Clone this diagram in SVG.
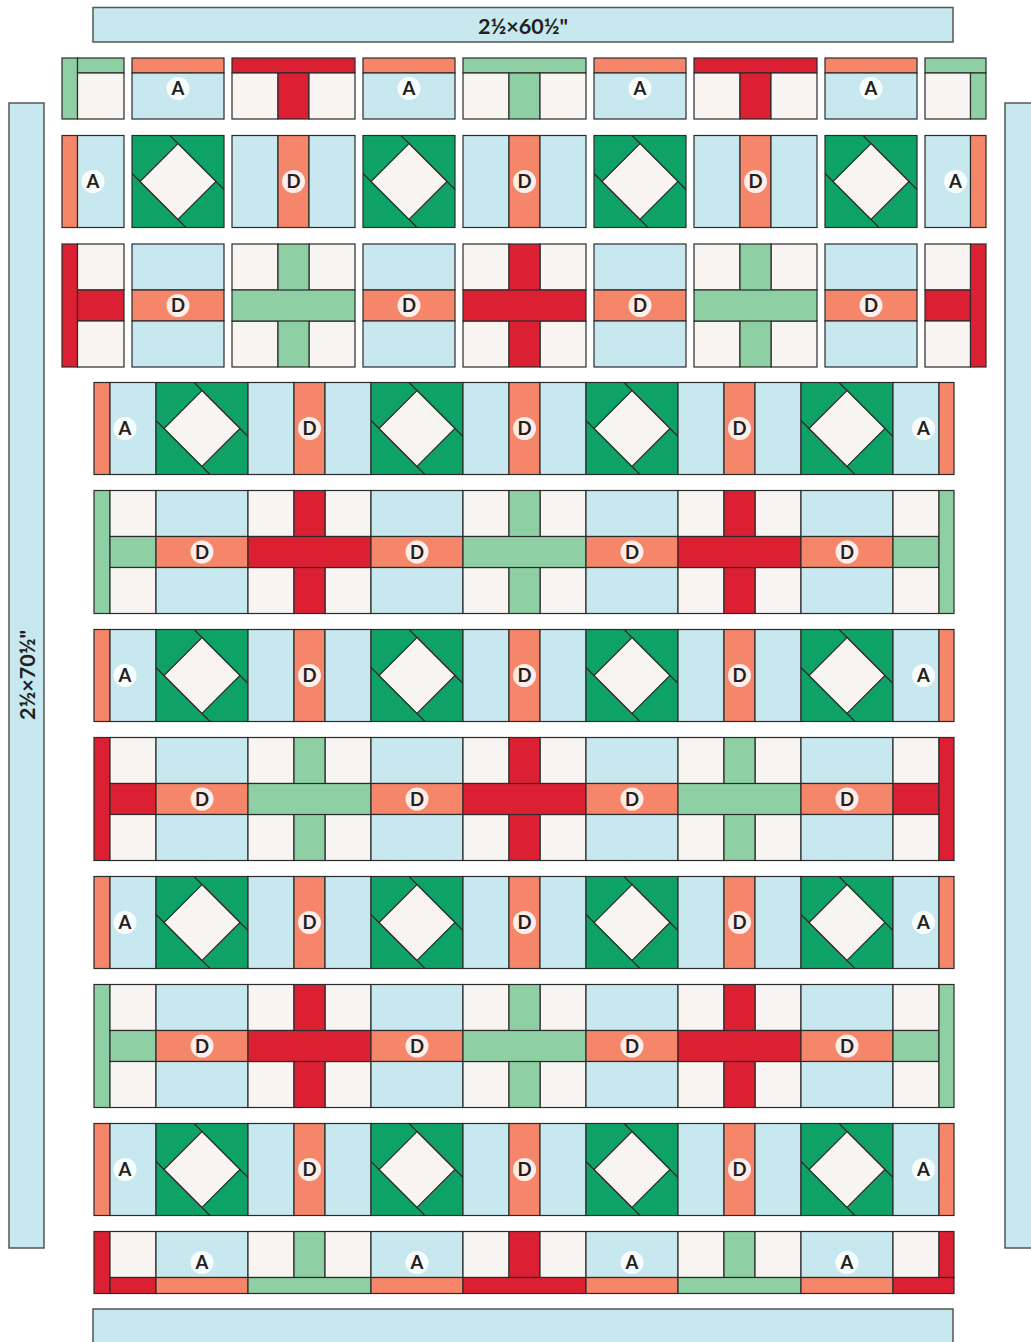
<svg xmlns="http://www.w3.org/2000/svg" xmlns:xlink="http://www.w3.org/1999/xlink" width="1031" height="1342" viewBox="0 0 1031 1342">
<style>
rect, polygon { stroke:#2b2b2b; stroke-width:1.2; }
.b { fill:#c8e8ef; }
.c { fill:#f8f4f1; }
.o { fill:#f58669; }
.r { fill:#db2033; }
.g { fill:#8ecfa3; }
.dg { fill:#0fa266; }
.ln { stroke:#2b2b2b; stroke-width:1.2; fill:none; }
.bd { fill:#c8e8ef; stroke:#555; stroke-width:1.5; }
.lc { fill:#fff; fill-opacity:0.85; }
.lb { font-family:Lato, "Liberation Sans", sans-serif; font-weight:700; font-size:18.5px; text-anchor:middle; fill:#231f20; }
.bt { font-family:Lato, "Liberation Sans", sans-serif; font-weight:700; font-size:21.5px; text-anchor:middle; fill:#231f20; }
</style>
<defs>
<g id="dia">
<rect class="dg" width="92" height="92"/>
<path class="ln" d="M38 0L92 54M0 38L54 92"/>
<polygon class="c" points="46,8 84,46 46,84 8,46"/>
</g>
<g id="dv">
<rect class="b" width="46" height="92"/><rect class="o" x="46" width="31" height="92"/><rect class="b" x="77" width="46" height="92"/>
<circle class="lc" cx="61.5" cy="46" r="11.5"/><text class="lb" x="61.5" y="52.5">D</text>
</g>
<g id="dh">
<rect class="b" width="92" height="46"/><rect class="o" y="46" width="92" height="31"/><rect class="b" y="77" width="92" height="46"/>
<circle class="lc" cx="46" cy="61.5" r="11.5"/><text class="lb" x="46" y="68">D</text>
</g>
<g id="cr">
<rect class="c" width="46" height="46"/><rect class="c" x="77" width="46" height="46"/><rect class="c" y="77" width="46" height="46"/><rect class="c" x="77" y="77" width="46" height="46"/>
<rect x="46" width="31" height="123"/><rect y="46" width="123" height="31"/>
</g>
</defs>

<g id="border-top"><rect class="bd" x="93" y="7.5" width="860" height="34.5"/><text class="bt" x="523" y="33.5">2½×60½"</text></g>
<g id="border-left"><rect class="bd" x="9" y="103" width="35" height="1145"/><text class="bt" transform="translate(35,675) rotate(-90)">2½×70½"</text></g>
<g id="border-right"><rect class="bd" x="1005" y="103" width="40" height="1145"/></g>
<g id="border-bottom"><rect class="bd" x="93" y="1309" width="860" height="50"/></g>

<!-- top section row 1 -->
<g id="t1-1"><rect class="g" x="62" y="58" width="15.5" height="61"/><rect class="g" x="77.5" y="58" width="46.5" height="15"/><rect class="c" x="77.5" y="73" width="46.5" height="46"/></g>
<g id="t1-2"><rect class="o" x="132" y="58" width="92" height="15"/><rect class="b" x="132" y="73" width="92" height="46"/><circle class="lc" cx="178" cy="88.5" r="11.5"/><text class="lb" x="178" y="95">A</text></g>
<g id="t1-3"><rect class="r" x="232" y="58" width="123" height="15"/><rect class="c" x="232" y="73" width="46" height="46"/><rect class="r" x="278" y="73" width="31" height="46"/><rect class="c" x="309" y="73" width="46" height="46"/></g>
<g id="t1-4"><rect class="o" x="363" y="58" width="92" height="15"/><rect class="b" x="363" y="73" width="92" height="46"/><circle class="lc" cx="409" cy="88.5" r="11.5"/><text class="lb" x="409" y="95">A</text></g>
<g id="t1-5"><rect class="g" x="463" y="58" width="123" height="15"/><rect class="c" x="463" y="73" width="46" height="46"/><rect class="g" x="509" y="73" width="31" height="46"/><rect class="c" x="540" y="73" width="46" height="46"/></g>
<g id="t1-6"><rect class="o" x="594" y="58" width="92" height="15"/><rect class="b" x="594" y="73" width="92" height="46"/><circle class="lc" cx="640" cy="88.5" r="11.5"/><text class="lb" x="640" y="95">A</text></g>
<g id="t1-7"><rect class="r" x="694" y="58" width="123" height="15"/><rect class="c" x="694" y="73" width="46" height="46"/><rect class="r" x="740" y="73" width="31" height="46"/><rect class="c" x="771" y="73" width="46" height="46"/></g>
<g id="t1-8"><rect class="o" x="825" y="58" width="92" height="15"/><rect class="b" x="825" y="73" width="92" height="46"/><circle class="lc" cx="871" cy="88.5" r="11.5"/><text class="lb" x="871" y="95">A</text></g>
<g id="t1-9"><rect class="g" x="925" y="58" width="61" height="15"/><rect class="c" x="925" y="73" width="45.5" height="46"/><rect class="g" x="970.5" y="73" width="15.5" height="46"/></g>

<!-- top section row 2 -->
<g id="t2-1"><rect class="o" x="62" y="135.5" width="15.5" height="92"/><rect class="b" x="77.5" y="135.5" width="46.5" height="92"/><circle class="lc" cx="93" cy="181.5" r="11.5"/><text class="lb" x="93" y="188">A</text></g>
<use id="t2-2" href="#dia" x="132" y="135.5"/>
<use id="t2-3" href="#dv" x="232" y="135.5"/>
<use id="t2-4" href="#dia" x="363" y="135.5"/>
<use id="t2-5" href="#dv" x="463" y="135.5"/>
<use id="t2-6" href="#dia" x="594" y="135.5"/>
<use id="t2-7" href="#dv" x="694" y="135.5"/>
<use id="t2-8" href="#dia" x="825" y="135.5"/>
<g id="t2-9"><rect class="b" x="925" y="135.5" width="45.5" height="92"/><rect class="o" x="970.5" y="135.5" width="15.5" height="92"/><circle class="lc" cx="955.5" cy="181.5" r="11.5"/><text class="lb" x="955.5" y="188">A</text></g>

<!-- top section row 3 -->
<g id="t3-1"><rect class="r" x="62" y="244" width="15.5" height="123"/><rect class="c" x="77.5" y="244" width="46.5" height="46"/><rect class="r" x="77.5" y="290" width="46.5" height="31"/><rect class="c" x="77.5" y="321" width="46.5" height="46"/></g>
<use id="t3-2" href="#dh" x="132" y="244"/>
<use id="t3-3" href="#cr" class="g" x="232" y="244"/>
<use id="t3-4" href="#dh" x="363" y="244"/>
<use id="t3-5" href="#cr" class="r" x="463" y="244"/>
<use id="t3-6" href="#dh" x="594" y="244"/>
<use id="t3-7" href="#cr" class="g" x="694" y="244"/>
<use id="t3-8" href="#dh" x="825" y="244"/>
<g id="t3-9"><rect class="c" x="925" y="244" width="45.5" height="46"/><rect class="r" x="925" y="290" width="45.5" height="31"/><rect class="c" x="925" y="321" width="45.5" height="46"/><rect class="r" x="970.5" y="244" width="15.5" height="123"/></g>

<!-- main row 4 -->
<g id="m4-1"><rect class="o" x="94" y="382.5" width="16" height="92"/><rect class="b" x="110" y="382.5" width="46" height="92"/><circle class="lc" cx="125" cy="428.5" r="11.5"/><text class="lb" x="125" y="435">A</text></g>
<use id="m4-2" href="#dia" x="156" y="382.5"/>
<use id="m4-3" href="#dv" x="248" y="382.5"/>
<use id="m4-4" href="#dia" x="371" y="382.5"/>
<use id="m4-5" href="#dv" x="463" y="382.5"/>
<use id="m4-6" href="#dia" x="586" y="382.5"/>
<use id="m4-7" href="#dv" x="678" y="382.5"/>
<use id="m4-8" href="#dia" x="801" y="382.5"/>
<g id="m4-9"><rect class="b" x="893" y="382.5" width="46" height="92"/><rect class="o" x="939" y="382.5" width="15" height="92"/><circle class="lc" cx="923.5" cy="428.5" r="11.5"/><text class="lb" x="923.5" y="435">A</text></g>

<!-- main row 5 -->
<g id="m5-1"><rect class="g" x="94" y="490.5" width="16" height="123"/><rect class="c" x="110" y="490.5" width="46" height="46"/><rect class="g" x="110" y="536.5" width="46" height="31"/><rect class="c" x="110" y="567.5" width="46" height="46"/></g>
<use id="m5-2" href="#dh" x="156" y="490.5"/>
<use id="m5-3" href="#cr" class="r" x="248" y="490.5"/>
<use id="m5-4" href="#dh" x="371" y="490.5"/>
<use id="m5-5" href="#cr" class="g" x="463" y="490.5"/>
<use id="m5-6" href="#dh" x="586" y="490.5"/>
<use id="m5-7" href="#cr" class="r" x="678" y="490.5"/>
<use id="m5-8" href="#dh" x="801" y="490.5"/>
<g id="m5-9"><rect class="c" x="893" y="490.5" width="46" height="46"/><rect class="g" x="893" y="536.5" width="46" height="31"/><rect class="c" x="893" y="567.5" width="46" height="46"/><rect class="g" x="939" y="490.5" width="15" height="123"/></g>

<!-- main row 6 -->
<g id="m6-1"><rect class="o" x="94" y="629.5" width="16" height="92"/><rect class="b" x="110" y="629.5" width="46" height="92"/><circle class="lc" cx="125" cy="675.5" r="11.5"/><text class="lb" x="125" y="682">A</text></g>
<use id="m6-2" href="#dia" x="156" y="629.5"/>
<use id="m6-3" href="#dv" x="248" y="629.5"/>
<use id="m6-4" href="#dia" x="371" y="629.5"/>
<use id="m6-5" href="#dv" x="463" y="629.5"/>
<use id="m6-6" href="#dia" x="586" y="629.5"/>
<use id="m6-7" href="#dv" x="678" y="629.5"/>
<use id="m6-8" href="#dia" x="801" y="629.5"/>
<g id="m6-9"><rect class="b" x="893" y="629.5" width="46" height="92"/><rect class="o" x="939" y="629.5" width="15" height="92"/><circle class="lc" cx="923.5" cy="675.5" r="11.5"/><text class="lb" x="923.5" y="682">A</text></g>

<!-- main row 7 -->
<g id="m7-1"><rect class="r" x="94" y="737.5" width="16" height="123"/><rect class="c" x="110" y="737.5" width="46" height="46"/><rect class="r" x="110" y="783.5" width="46" height="31"/><rect class="c" x="110" y="814.5" width="46" height="46"/></g>
<use id="m7-2" href="#dh" x="156" y="737.5"/>
<use id="m7-3" href="#cr" class="g" x="248" y="737.5"/>
<use id="m7-4" href="#dh" x="371" y="737.5"/>
<use id="m7-5" href="#cr" class="r" x="463" y="737.5"/>
<use id="m7-6" href="#dh" x="586" y="737.5"/>
<use id="m7-7" href="#cr" class="g" x="678" y="737.5"/>
<use id="m7-8" href="#dh" x="801" y="737.5"/>
<g id="m7-9"><rect class="c" x="893" y="737.5" width="46" height="46"/><rect class="r" x="893" y="783.5" width="46" height="31"/><rect class="c" x="893" y="814.5" width="46" height="46"/><rect class="r" x="939" y="737.5" width="15" height="123"/></g>

<!-- main row 8 -->
<g id="m8-1"><rect class="o" x="94" y="876.5" width="16" height="92"/><rect class="b" x="110" y="876.5" width="46" height="92"/><circle class="lc" cx="125" cy="922.5" r="11.5"/><text class="lb" x="125" y="929">A</text></g>
<use id="m8-2" href="#dia" x="156" y="876.5"/>
<use id="m8-3" href="#dv" x="248" y="876.5"/>
<use id="m8-4" href="#dia" x="371" y="876.5"/>
<use id="m8-5" href="#dv" x="463" y="876.5"/>
<use id="m8-6" href="#dia" x="586" y="876.5"/>
<use id="m8-7" href="#dv" x="678" y="876.5"/>
<use id="m8-8" href="#dia" x="801" y="876.5"/>
<g id="m8-9"><rect class="b" x="893" y="876.5" width="46" height="92"/><rect class="o" x="939" y="876.5" width="15" height="92"/><circle class="lc" cx="923.5" cy="922.5" r="11.5"/><text class="lb" x="923.5" y="929">A</text></g>

<!-- main row 9 -->
<g id="m9-1"><rect class="g" x="94" y="984.5" width="16" height="123"/><rect class="c" x="110" y="984.5" width="46" height="46"/><rect class="g" x="110" y="1030.5" width="46" height="31"/><rect class="c" x="110" y="1061.5" width="46" height="46"/></g>
<use id="m9-2" href="#dh" x="156" y="984.5"/>
<use id="m9-3" href="#cr" class="r" x="248" y="984.5"/>
<use id="m9-4" href="#dh" x="371" y="984.5"/>
<use id="m9-5" href="#cr" class="g" x="463" y="984.5"/>
<use id="m9-6" href="#dh" x="586" y="984.5"/>
<use id="m9-7" href="#cr" class="r" x="678" y="984.5"/>
<use id="m9-8" href="#dh" x="801" y="984.5"/>
<g id="m9-9"><rect class="c" x="893" y="984.5" width="46" height="46"/><rect class="g" x="893" y="1030.5" width="46" height="31"/><rect class="c" x="893" y="1061.5" width="46" height="46"/><rect class="g" x="939" y="984.5" width="15" height="123"/></g>

<!-- main row 10 -->
<g id="m10-1"><rect class="o" x="94" y="1123.5" width="16" height="92"/><rect class="b" x="110" y="1123.5" width="46" height="92"/><circle class="lc" cx="125" cy="1169.5" r="11.5"/><text class="lb" x="125" y="1176">A</text></g>
<use id="m10-2" href="#dia" x="156" y="1123.5"/>
<use id="m10-3" href="#dv" x="248" y="1123.5"/>
<use id="m10-4" href="#dia" x="371" y="1123.5"/>
<use id="m10-5" href="#dv" x="463" y="1123.5"/>
<use id="m10-6" href="#dia" x="586" y="1123.5"/>
<use id="m10-7" href="#dv" x="678" y="1123.5"/>
<use id="m10-8" href="#dia" x="801" y="1123.5"/>
<g id="m10-9"><rect class="b" x="893" y="1123.5" width="46" height="92"/><rect class="o" x="939" y="1123.5" width="15" height="92"/><circle class="lc" cx="923.5" cy="1169.5" r="11.5"/><text class="lb" x="923.5" y="1176">A</text></g>

<!-- main row 11 -->
<g id="m11-1"><rect class="r" x="94" y="1231.5" width="16" height="62"/><rect class="c" x="110" y="1231.5" width="46" height="46"/><rect class="r" x="110" y="1277.5" width="46" height="16"/></g>
<g id="m11-2"><rect class="b" x="156" y="1231.5" width="92" height="46"/><rect class="o" x="156" y="1277.5" width="92" height="16"/><circle class="lc" cx="202" cy="1262.5" r="11.5"/><text class="lb" x="202" y="1269">A</text></g>
<g id="m11-3"><rect class="c" x="248" y="1231.5" width="46" height="46"/><rect class="g" x="294" y="1231.5" width="31" height="46"/><rect class="c" x="325" y="1231.5" width="46" height="46"/><rect class="g" x="248" y="1277.5" width="123" height="16"/></g>
<g id="m11-4"><rect class="b" x="371" y="1231.5" width="92" height="46"/><rect class="o" x="371" y="1277.5" width="92" height="16"/><circle class="lc" cx="417" cy="1262.5" r="11.5"/><text class="lb" x="417" y="1269">A</text></g>
<g id="m11-5"><rect class="c" x="463" y="1231.5" width="46" height="46"/><rect class="r" x="509" y="1231.5" width="31" height="46"/><rect class="c" x="540" y="1231.5" width="46" height="46"/><rect class="r" x="463" y="1277.5" width="123" height="16"/></g>
<g id="m11-6"><rect class="b" x="586" y="1231.5" width="92" height="46"/><rect class="o" x="586" y="1277.5" width="92" height="16"/><circle class="lc" cx="632" cy="1262.5" r="11.5"/><text class="lb" x="632" y="1269">A</text></g>
<g id="m11-7"><rect class="c" x="678" y="1231.5" width="46" height="46"/><rect class="g" x="724" y="1231.5" width="31" height="46"/><rect class="c" x="755" y="1231.5" width="46" height="46"/><rect class="g" x="678" y="1277.5" width="123" height="16"/></g>
<g id="m11-8"><rect class="b" x="801" y="1231.5" width="92" height="46"/><rect class="o" x="801" y="1277.5" width="92" height="16"/><circle class="lc" cx="847" cy="1262.5" r="11.5"/><text class="lb" x="847" y="1269">A</text></g>
<g id="m11-9"><rect class="c" x="893" y="1231.5" width="46" height="46"/><rect class="r" x="939" y="1231.5" width="15" height="46"/><rect class="r" x="893" y="1277.5" width="61" height="16"/></g>

<g id="connectors"></g>
</svg>
